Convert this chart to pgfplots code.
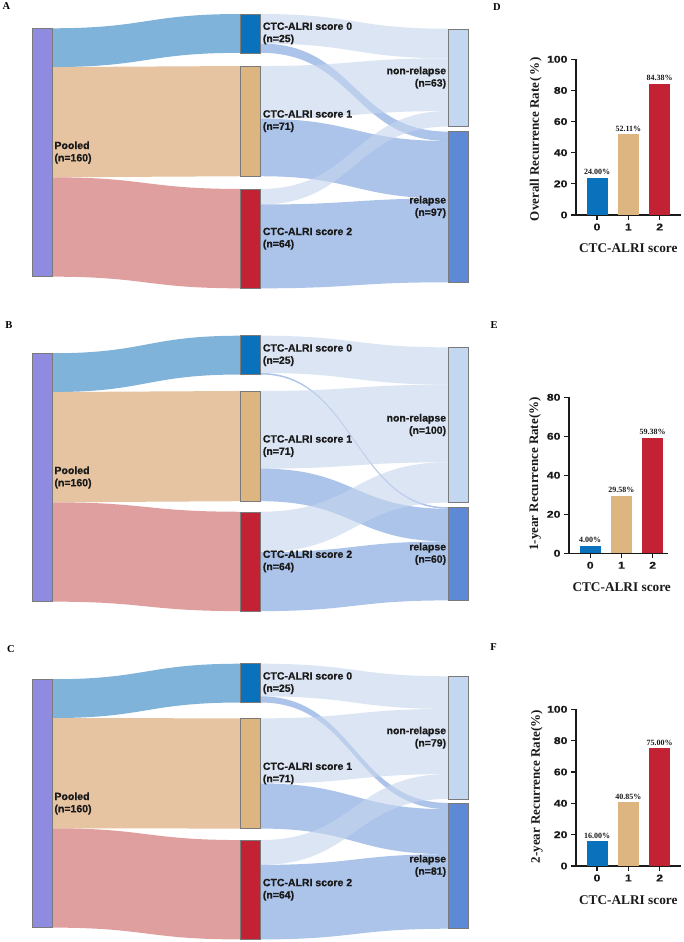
\documentclass[border=0pt]{standalone}
\usepackage{fontspec}
\setmainfont{Liberation Serif}
\newfontfamily\sansf[FakeBold=0.7]{Liberation Sans Bold}
\newfontfamily\tickf[FakeStretch=1.25, FakeBold=0.6]{Liberation Sans Bold}
\usepackage{pgfplots}
\pgfplotsset{compat=1.18}

\definecolor{pooled}{HTML}{8E8BE0}
\definecolor{sc0}{HTML}{0A72BD}
\definecolor{sc1}{HTML}{DDB581}
\definecolor{sc2}{HTML}{C32234}
\definecolor{nrel}{HTML}{C4D7F1}
\definecolor{rel}{HTML}{5D89D6}
\definecolor{f0}{HTML}{80B3DA}
\definecolor{f1}{HTML}{E6C4A2}
\definecolor{f2}{HTML}{E09F9F}
\definecolor{fn}{RGB}{198,213,238}
\definecolor{fr}{RGB}{118,158,220}
\definecolor{ndline}{HTML}{7A7A7A}
\definecolor{axc}{HTML}{1A1A1A}

% flow band: x1, xm, x2, a1, b1, a2, b2, style
\newcommand{\flow}[8]{%
  \fill[#8] (axis cs:#1,#4) .. controls (axis cs:#2,#4) and (axis cs:#2,#6) .. (axis cs:#3,#6)
    -- (axis cs:#3,#7) .. controls (axis cs:#2,#7) and (axis cs:#2,#5) .. (axis cs:#1,#5) -- cycle;}
% node rectangle: x1, x2, a, b, colour
\newcommand{\nd}[5]{%
  \addplot[fill=#5, draw=ndline, line width=0.5pt] coordinates {(#1,#3) (#2,#3) (#2,#4) (#1,#4)} -- cycle;}

\newcommand{\sk}{\sansf\fontsize{10.5}{12.3}\selectfont}
\newcommand{\axlab}{\bfseries\fontsize{13}{14}\selectfont}
\newcommand{\axxlab}{\bfseries\fontsize{13.3}{14}\selectfont}

\tikzset{
  mlab/.style={anchor=west, align=left, inner sep=0pt, font=\sk, text=axc},
  rlab/.style={anchor=east, align=right, inner sep=0pt, font=\sk, text=axc},
}
\pgfplotsset{
  sankey/.style={anchor=north west, scale only axis, width=470pt, height=284.1pt,
    xmin=0, xmax=470, ymin=-5, ymax=178, y dir=reverse, hide axis, clip=false},
  barax/.style={anchor=south west, scale only axis, axis lines=left,
    axis line style={-, line width=1.3pt, color=axc}, tick align=outside,
    xtick={0,1,2}, major tick length=5pt, tick style={line width=1.2pt, color=axc},
    minor tick num=0, enlargelimits=false, clip=false,
    tick label style={font=\tickf\fontsize{9.8}{11}\selectfont, text=axc},
    /pgf/number format/assume math mode=true},
  mybar/.style={ybar, bar width=21pt, bar shift=0pt, draw=none,
    nodes near coords={\pgfmathprintnumber[fixed,fixed zerofill,precision=2,assume math mode=true]{\pgfplotspointmeta}\%},
    every node near coord/.append style={font=\bfseries\fontsize{8}{9}\selectfont, anchor=south, inner sep=1pt, yshift=1.5pt, text=axc}},
}

\begin{document}
\begin{tikzpicture}
\fill[white] (0,0) rectangle (683pt,-942pt);

% ---------------- Panel A ----------------
\begin{axis}[sankey, at={(0pt,-6.24pt)}]
\flow{52.3}{146.5}{240.7}{9.2}{34.2}{0}{25}{f0}
\flow{52.3}{146.5}{240.7}{34.2}{105.2}{33.5}{104.5}{f1}
\flow{52.3}{146.5}{240.7}{105.2}{169.2}{112.7}{176.7}{f2}
\flow{260.7}{354.6}{448.5}{0}{19}{9.5}{28.5}{fn, opacity=0.6}
\flow{260.7}{354.6}{448.5}{19}{25}{75.8}{81.8}{fr, opacity=0.6}
\flow{260.7}{354.6}{448.5}{33.5}{67.5}{28.5}{62.5}{fn, opacity=0.6}
\flow{260.7}{354.6}{448.5}{67.5}{104.5}{81.8}{118.8}{fr, opacity=0.6}
\flow{260.7}{354.6}{448.5}{112.7}{122.7}{62.5}{72.5}{fn, opacity=0.6}
\flow{260.7}{354.6}{448.5}{122.7}{176.7}{118.8}{172.8}{fr, opacity=0.6}
\nd{32.3}{52.3}{9.2}{169.2}{pooled}
\nd{240.7}{260.7}{0}{25}{sc0}
\nd{240.7}{260.7}{33.5}{104.5}{sc1}
\nd{240.7}{260.7}{112.7}{176.7}{sc2}
\nd{448.5}{468.5}{9.5}{72.5}{nrel}
\nd{448.5}{468.5}{75.8}{172.8}{rel}
\node[mlab] at (axis cs:54.3,89.2) {Pooled\\(n=160)};
\node[mlab] at (axis cs:262.7,12.5) {CTC-ALRI score 0\\(n=25)};
\node[mlab] at (axis cs:262.7,69) {CTC-ALRI score 1\\(n=71)};
\node[mlab] at (axis cs:262.7,144.7) {CTC-ALRI score 2\\(n=64)};
\node[rlab] at (axis cs:446.3,41) {non-relapse\\(n=63)};
\node[rlab] at (axis cs:446.3,124.3) {relapse\\(n=97)};
\end{axis}

% ---------------- Panel B ----------------
\begin{axis}[sankey, at={(0pt,-327.94pt)}]
\flow{52.3}{146.5}{240.7}{11.3}{36.3}{0}{25}{f0}
\flow{52.3}{146.5}{240.7}{36.3}{107.3}{35.6}{106.6}{f1}
\flow{52.3}{146.5}{240.7}{107.3}{171.3}{113.4}{177.4}{f2}
\flow{260.7}{354.6}{448.5}{0}{24}{7.5}{31.5}{fn, opacity=0.6}
\flow{260.7}{354.6}{448.5}{24}{25}{110.5}{111.5}{fr, opacity=0.6}
\flow{260.7}{354.6}{448.5}{35.6}{85.6}{31.5}{81.5}{fn, opacity=0.6}
\flow{260.7}{354.6}{448.5}{85.6}{106.6}{111.5}{132.5}{fr, opacity=0.6}
\flow{260.7}{354.6}{448.5}{113.4}{139.4}{81.5}{107.5}{fn, opacity=0.6}
\flow{260.7}{354.6}{448.5}{139.4}{177.4}{132.5}{170.5}{fr, opacity=0.6}
\nd{32.3}{52.3}{11.3}{171.3}{pooled}
\nd{240.7}{260.7}{0}{25}{sc0}
\nd{240.7}{260.7}{35.6}{106.6}{sc1}
\nd{240.7}{260.7}{113.4}{177.4}{sc2}
\nd{448.5}{468.5}{7.5}{107.5}{nrel}
\nd{448.5}{468.5}{110.5}{170.5}{rel}
\node[mlab] at (axis cs:54.3,91.3) {Pooled\\(n=160)};
\node[mlab] at (axis cs:262.7,12.5) {CTC-ALRI score 0\\(n=25)};
\node[mlab] at (axis cs:262.7,71.1) {CTC-ALRI score 1\\(n=71)};
\node[mlab] at (axis cs:262.7,145.4) {CTC-ALRI score 2\\(n=64)};
\node[rlab] at (axis cs:446.3,57.5) {non-relapse\\(n=100)};
\node[rlab] at (axis cs:446.3,140.5) {relapse\\(n=60)};
\end{axis}

% ---------------- Panel C ----------------
\begin{axis}[sankey, at={(0pt,-655.94pt)}]
\flow{52.3}{146.5}{240.7}{10}{35}{0}{25}{f0}
\flow{52.3}{146.5}{240.7}{35}{106}{35.2}{106.2}{f1}
\flow{52.3}{146.5}{240.7}{106}{170}{113.6}{177.6}{f2}
\flow{260.7}{354.6}{448.5}{0}{21}{8.1}{29.1}{fn, opacity=0.6}
\flow{260.7}{354.6}{448.5}{21}{25}{89.7}{93.7}{fr, opacity=0.6}
\flow{260.7}{354.6}{448.5}{35.2}{77.2}{29.1}{71.1}{fn, opacity=0.6}
\flow{260.7}{354.6}{448.5}{77.2}{106.2}{93.7}{122.7}{fr, opacity=0.6}
\flow{260.7}{354.6}{448.5}{113.6}{129.6}{71.1}{87.1}{fn, opacity=0.6}
\flow{260.7}{354.6}{448.5}{129.6}{177.6}{122.7}{170.7}{fr, opacity=0.6}
\nd{32.3}{52.3}{10}{170}{pooled}
\nd{240.7}{260.7}{0}{25}{sc0}
\nd{240.7}{260.7}{35.2}{106.2}{sc1}
\nd{240.7}{260.7}{113.6}{177.6}{sc2}
\nd{448.5}{468.5}{8.1}{87.1}{nrel}
\nd{448.5}{468.5}{89.7}{170.7}{rel}
\node[mlab] at (axis cs:54.3,90) {Pooled\\(n=160)};
\node[mlab] at (axis cs:262.7,12.5) {CTC-ALRI score 0\\(n=25)};
\node[mlab] at (axis cs:262.7,70.7) {CTC-ALRI score 1\\(n=71)};
\node[mlab] at (axis cs:262.7,145.6) {CTC-ALRI score 2\\(n=64)};
\node[rlab] at (axis cs:446.3,47.6) {non-relapse\\(n=79)};
\node[rlab] at (axis cs:446.3,130.2) {relapse\\(n=81)};
\end{axis}

% ---------------- Panel D ----------------
\begin{axis}[barax, at={(576pt,-215pt)}, width=105pt, height=155.7pt,
  xmin=-0.67, xmax=2.68, ymin=0, ymax=100, ytick={0,20,40,60,80,100}]
\addplot[mybar, fill=sc0] coordinates {(0,24.00)};
\addplot[mybar, fill=sc1] coordinates {(1,52.11)};
\addplot[mybar, fill=sc2] coordinates {(2,84.38)};
\end{axis}

% ---------------- Panel E ----------------
\begin{axis}[barax, at={(569pt,-553.3pt)}, width=99pt, height=156pt,
  xmin=-0.68, xmax=2.49, ymin=0, ymax=80, ytick={0,20,40,60,80}]
\addplot[mybar, fill=sc0] coordinates {(0,4.00)};
\addplot[mybar, fill=sc1] coordinates {(1,29.58)};
\addplot[mybar, fill=sc2] coordinates {(2,59.38)};
\end{axis}

% ---------------- Panel F ----------------
\begin{axis}[barax, at={(576pt,-866pt)}, width=104.7pt, height=156.7pt,
  xmin=-0.67, xmax=2.67, ymin=0, ymax=100, ytick={0,20,40,60,80,100}]
\addplot[mybar, fill=sc0] coordinates {(0,16.00)};
\addplot[mybar, fill=sc1] coordinates {(1,40.85)};
\addplot[mybar, fill=sc2] coordinates {(2,75.00)};
\end{axis}

% axis titles of bar charts
\node[rotate=90, font=\axlab, text=axc] at (535.8pt,-139pt) {Overall Recurrence Rate\kern1pt(\kern1.5pt\%\kern1.5pt)};
\node[font=\axxlab, text=axc] at (628.3pt,-248pt) {CTC-ALRI score};
\node[rotate=90, font=\axlab, text=axc] at (535pt,-474pt) {1-year Recurrence Rate(\%)};
\node[font=\axxlab, text=axc] at (621.7pt,-586.7pt) {CTC-ALRI score};
\node[rotate=90, font=\axlab, text=axc] at (536.7pt,-786.5pt) {2-year Recurrence Rate(\%)};
\node[font=\axxlab, text=axc] at (628.3pt,-900pt) {CTC-ALRI score};

% panel letters
\begin{scope}[every node/.style={font=\bfseries\fontsize{10.5}{12}\selectfont, inner sep=0pt}]
\node at (6.5pt,-6.5pt) {A};
\node at (9pt,-325pt) {B};
\node at (11pt,-648.7pt) {C};
\node at (497pt,-6.7pt) {D};
\node at (494pt,-325pt) {E};
\node at (493.5pt,-646.7pt) {F};
\end{scope}

\pgfresetboundingbox
\path[use as bounding box] (0,0) rectangle (683pt,-942pt);
\end{tikzpicture}
\end{document}
